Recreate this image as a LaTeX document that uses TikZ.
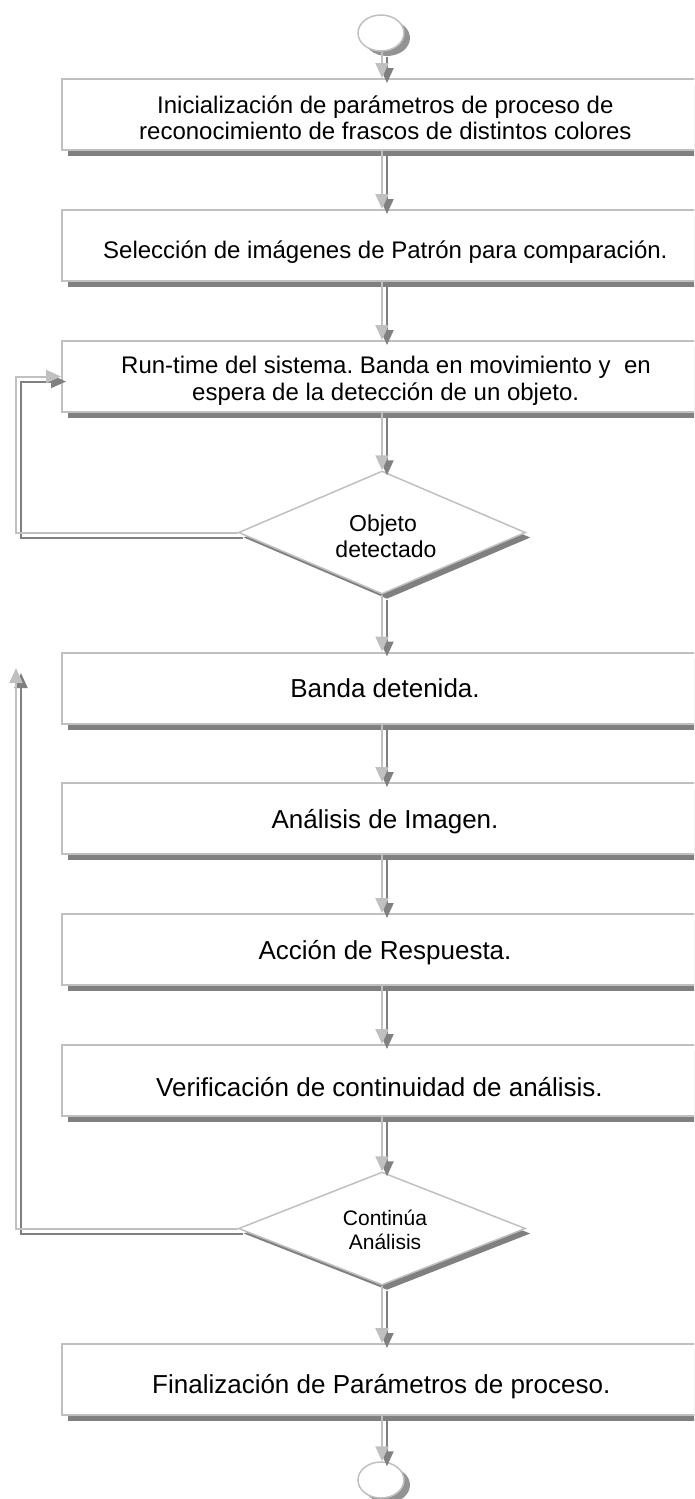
\documentclass[tikz,border=0pt]{standalone}
\usepackage{fontspec}
\setmainfont{Liberation Sans}
\usetikzlibrary{shapes.geometric,shadows,arrows.meta}
\definecolor{lgray}{HTML}{C0C0C0}
\definecolor{dgray}{HTML}{808080}
\frenchspacing
\tikzset{
  pbox/.style={draw=lgray, line width=2pt, fill=white, minimum width=640pt, minimum height=71pt, inner sep=0pt,
    drop shadow={shadow xshift=6pt, shadow yshift=-6pt, fill=dgray, opacity=1}},
  dshape/.style={diamond, draw=lgray, line width=1.5pt, fill=white, minimum width=287pt, inner sep=0pt,
    drop shadow={shadow xshift=5pt, shadow yshift=-5pt, fill=dgray, opacity=1}},
  eshape/.style={ellipse, draw=lgray, line width=1.5pt, fill=white, minimum width=46pt, minimum height=36pt, inner sep=0pt,
    drop shadow={shadow xshift=6pt, shadow yshift=-5pt, fill=dgray!85, opacity=1}},
  conn/.style={draw=lgray, line width=2pt, -{Triangle[length=15pt,width=13pt]}},
  connsh/.style={draw=dgray, line width=2pt, -{Triangle[length=15pt,width=13pt]}, transform canvas={xshift=5pt, yshift=-5pt}},
  tA/.style={font=\fontsize{24}{28}\selectfont, inner sep=0pt, anchor=base west},
  tB/.style={font=\fontsize{26}{30}\selectfont, inner sep=0pt, anchor=base},
  tC/.style={font=\fontsize{23}{26}\selectfont, inner sep=0pt, anchor=base},
  tD/.style={font=\fontsize{21}{24}\selectfont, inner sep=0pt, anchor=base},
}
\begin{document}
\begin{tikzpicture}[x=1pt,y=-1pt]
\useasboundingbox (0,0) rectangle (694,1499);
\clip (0,0) rectangle (694,1499);
\coordinate (lx) at (16,0);
\coordinate (tipc) at (16,668);

\node[eshape] (e1) at (381,33) {};
\node[pbox] (b1) at (382,114.5) {};
\node[pbox] (b2) at (382,245.5) {};
\node[pbox] (b3) at (382,376.5) {};
\node[dshape, minimum height=123pt] (d1) at (382,532.5) {};
\node[pbox] (b4) at (382,688) {};
\node[pbox] (b5) at (382,818.5) {};
\node[pbox] (b6) at (382,949.5) {};
\node[pbox] (b7) at (382,1080.5) {};
\node[dshape, minimum height=113pt] (d2) at (382,1228.5) {};
\node[pbox] (b8) at (382,1379.5) {};
\node[eshape] (e2) at (381,1480) {};

\node[tA] (t1a) at (157,113) {Inicialización de parámetros de proceso de};
\node[tA] (t1b) at (139,139) {reconocimiento de frascos de distintos colores};
\node[tA] (t2) at (103,258) {Selección de imágenes de Patrón para comparación.};
\node[tA] (t3a) at (121,373) {Run-time del sistema. Banda en movimiento y\ \ en};
\node[tA] (t3b) at (192,400) {espera de la detección de un objeto.};
\node[tC] (t4a) at (383,531) {Objeto};
\node[tC] (t4b) at (386,557) {detectado};
\node[tB] (t5) at (385,697) {Banda detenida.};
\node[tB] (t6) at (385,828) {Análisis de Imagen.};
\node[tB] (t7) at (385,959) {Acción de Respuesta.};
\node[tB, anchor=base west] (t8) at (156,1096) {Verificación de continuidad de análisis.};
\node[tD] (t9a) at (385,1225) {Continúa};
\node[tD] (t9b) at (385,1249) {Análisis};
\node[tB, anchor=base west] (t10) at (152,1393) {Finalización de Parámetros de proceso.};

% shadows of connectors
\foreach \s/\t in {e1/b1,b1/b2,b2/b3,b3/d1,d1/b4,b4/b5,b5/b6,b6/b7,b7/d2,d2/b8,b8/e2}{
  \draw[connsh] (\s.south -| d1.north) -- (\t.north -| d1.north);
}
\draw[connsh] (d1.west) -- (d1.west -| lx) |- (b3.west);
\draw[connsh] (d2.west) -- (d2.west -| lx) -- (tipc);
% connectors
\foreach \s/\t in {e1/b1,b1/b2,b2/b3,b3/d1,d1/b4,b4/b5,b5/b6,b6/b7,b7/d2,d2/b8,b8/e2}{
  \draw[conn] (\s.south -| d1.north) -- (\t.north -| d1.north);
}
\draw[conn] (d1.west) -- (d1.west -| lx) |- (b3.west);
\draw[conn] (d2.west) -- (d2.west -| lx) -- (tipc);
\end{tikzpicture}
\end{document}
